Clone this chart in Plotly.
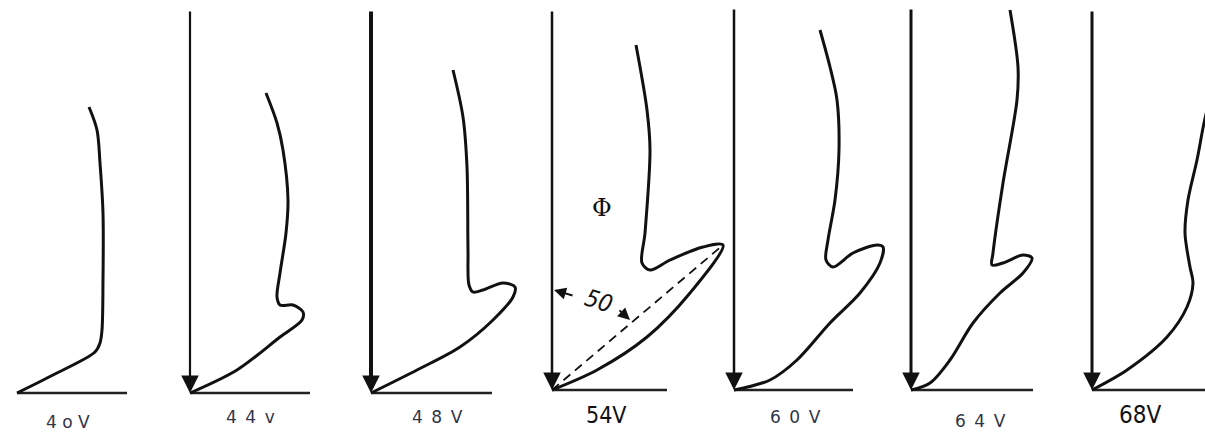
import plotly.graph_objects as go

NB = "\u00a0"
EN = "\u2002"

# Anode voltage of each panel
voltages = ["4" + NB + "o" + NB + "V",
            "4" + EN + "4" + EN + "v",
            "4" + EN + "8" + EN + "V",
            "54V",
            "6" + EN + "0" + EN + "V",
            "6" + EN + "4" + EN + "V",
            "68V"]

# Locus curves, one per voltage, in panel-local units (origin at the
# foot of the reference arrow, y pointing up)
locus_x = [
    [0, 36, 78, 83, 85, 86, 86, 83, 80, 72],
    [0, 47, 90, 112, 113, 103, 90, 87, 90, 96, 98, 93, 87, 76],
    [0, 46, 89, 122, 142, 144, 132, 112, 102, 98, 97, 96, 92, 82],
    [0, 45, 95, 138, 171, 151, 118, 98, 90, 93, 98, 95, 84],
    [0, 36, 63, 96, 126, 146, 149, 143, 119, 99, 92, 94, 101, 105, 103, 96, 86],
    [0, 19, 39, 62, 89, 112, 121, 112, 92, 81, 82, 92, 106, 107, 99],
    [0, 35, 75, 95, 101, 98, 93, 96, 105, 112, 120],
]
locus_y = [
    [0, 18, 41, 50, 63, 113, 180, 230, 263, 286],
    [0, 23, 56, 73, 81, 88, 88, 96, 120, 160, 193, 243, 270, 300],
    [0, 23, 46, 73, 96, 106, 110, 103, 101, 108, 143, 226, 276, 323],
    [0, 20, 53, 97, 145, 143, 130, 120, 127, 157, 240, 280, 345],
    [0, 10, 30, 67, 97, 127, 143, 145, 137, 123, 130, 150, 190, 240, 290, 323, 360],
    [0, 7, 30, 67, 97, 117, 132, 135, 127, 125, 137, 207, 290, 323, 380],
    [0, 20, 53, 83, 107, 123, 157, 190, 230, 267, 300],
]

# Reference arrow length (None: panel has no arrow) and baseline length
arrow_len = [None, 383, 383, 380, 382, 382, 380]
base_len = [110, 120, 121, 115, 119, 122, 130]

# Panel placement and styling
origin_x = [17, 190, 371, 552, 734, 911, 1092]
origin_y = [-3, -3, -3, 0, 0, 0, 0]
arrow_w = [0, 2.2, 4, 2.5, 2.5, 3, 3]
label_x = [68, 250, 437, 606, 795, 980, 1140]
label_y = [-32, -27, -27, -25, -27, -31, -25]
label_size = [17, 17, 17, 23, 17, 17, 24]

fig = go.Figure()

for i in range(len(voltages)):
    ox, oy = origin_x[i], origin_y[i]
    # baseline
    fig.add_trace(go.Scatter(
        x=[ox, ox + base_len[i]], y=[oy, oy], mode="lines",
        line=dict(color="#222", width=2.4), hoverinfo="skip"))
    # locus curve
    fig.add_trace(go.Scatter(
        x=[ox + v for v in locus_x[i]], y=[oy + v for v in locus_y[i]],
        mode="lines", line=dict(color="#111", width=3, shape="spline", smoothing=0.9),
        hoverinfo="skip"))
    # reference arrow pointing down to the origin
    if arrow_len[i] is not None:
        fig.add_annotation(
            x=ox, y=oy, ax=ox, ay=oy + arrow_len[i], xref="x", yref="y",
            axref="x", ayref="y", text="", showarrow=True, arrowhead=2,
            arrowsize=3.5 / arrow_w[i], arrowwidth=arrow_w[i],
            arrowcolor="#111", standoff=0)
    # voltage label
    big = label_size[i] > 20
    fig.add_annotation(
        x=label_x[i], y=label_y[i], xref="x", yref="y", text=voltages[i],
        showarrow=False,
        font=dict(size=label_size[i], color="#111" if big else "#2f3448",
                  family="DejaVu Sans Condensed, Liberation Sans Narrow, sans-serif"
                  if big else "DejaVu Sans, sans-serif"))

# 54V panel: chord to the tip of the loop and the 50 degree angle marking
p = 3
ox, oy = origin_x[p], origin_y[p]
tip = 4
fig.add_trace(go.Scatter(
    x=[ox, ox + locus_x[p][tip]], y=[oy, oy + locus_y[p][tip]], mode="lines",
    line=dict(color="#111", width=1.8, dash="9px,6px"), hoverinfo="skip"))
fig.add_annotation(x=ox + 50, y=oy + 182, xref="x", yref="y", text="Φ",
                   showarrow=False, font=dict(size=24, color="#111",
                                              family="DejaVu Serif, serif"))
fig.add_annotation(x=ox + 46, y=oy + 89, xref="x", yref="y", text="<i>50</i>",
                   showarrow=False, textangle=18,
                   font=dict(size=24, color="#111",
                             family="DejaVu Sans Condensed, DejaVu Sans, sans-serif"))
fig.add_annotation(x=ox + 2, y=oy + 100, ax=ox + 22, ay=oy + 94, xref="x", yref="y",
                   axref="x", ayref="y", text="", showarrow=True, arrowhead=2,
                   arrowsize=1.2, arrowwidth=2, arrowcolor="#111", standoff=0)
fig.add_annotation(x=ox + 78, y=oy + 70, ax=ox + 66, ay=oy + 81, xref="x", yref="y",
                   axref="x", ayref="y", text="", showarrow=True, arrowhead=2,
                   arrowsize=1.2, arrowwidth=2, arrowcolor="#111", standoff=0)

fig.update_layout(
    width=1205, height=435, margin=dict(l=0, r=0, t=0, b=0),
    paper_bgcolor="white", plot_bgcolor="white", showlegend=False,
    xaxis=dict(range=[0, 1205], visible=False, fixedrange=True),
    yaxis=dict(range=[-45, 390], visible=False, fixedrange=True),
)

fig.write_html("out.html")
